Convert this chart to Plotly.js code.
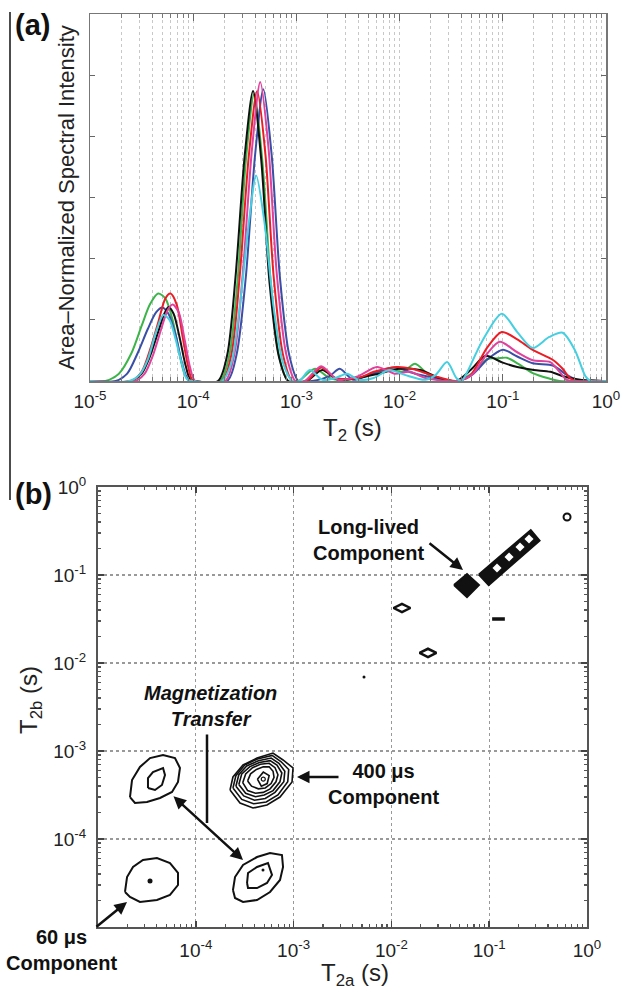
<!DOCTYPE html>
<html>
<head>
<meta charset="utf-8">
<script src="https://cdn.plot.ly/plotly-3.0.1.min.js"></script>
<style>html,body{margin:0;padding:0;background:#fff;}#chart{width:624px;height:989px;}</style>
</head>
<body>
<div id="chart"></div>
<script>
// ---------- Panel (a): T2 distributions (log10 T2 in s, area-normalized intensity) ----------
var greenLogT2 = [-5, -4.85, -4.72, -4.6, -4.5, -4.42, -4.34, -4.27, -4.2, -4.14, -4.08, -4.02, -3.74, -3.65, -3.57, -3.49, -3.41, -3.33, -3.25, -3.17, -3.08, -2.98, -2.82, -2.68, -2.55, -2.4, -2.25, -2.1, -1.97, -1.85, -1.72, -1.6, -1.45, -1.3, -1.15, -1.05, -0.96, -0.85, -0.71, -0.55, -0.45, 0];
var greenIntensity = [0, 0, 0.12, 0.45, 0.9, 1.25, 1.43, 1.35, 1.0, 0.5, 0.1, 0, 0, 0.42, 1.64, 3.6, 4.69, 3.6, 1.64, 0.42, 0, 0, 0.2, 0.05, 0.02, 0.05, 0.12, 0.2, 0.15, 0.28, 0.1, 0.02, 0, 0.12, 0.36, 0.37, 0.38, 0.28, 0.13, 0.04, 0, 0];

var blackLogT2 = [-5, -4.6, -4.5, -4.42, -4.34, -4.28, -4.24, -4.19, -4.13, -4.08, -4.03, -3.98, -3.76, -3.67, -3.59, -3.5, -3.42, -3.34, -3.26, -3.17, -3.08, -2.9, -2.75, -2.6, -2.4, -2.2, -2.0, -1.8, -1.6, -1.45, -1.3, -1.17, -1.0, -0.86, -0.7, -0.54, -0.4, -0.25, -0.1, 0];
var blackIntensity = [0, 0, 0.12, 0.4, 0.8, 1.1, 1.21, 1.1, 0.7, 0.3, 0.03, 0, 0, 0.43, 1.7, 3.7, 4.74, 3.6, 1.6, 0.4, 0, 0, 0.18, 0.02, 0.05, 0.12, 0.2, 0.18, 0.04, 0, 0.2, 0.41, 0.3, 0.23, 0.18, 0.15, 0.07, 0.02, 0.01, 0];

var blueLogT2 = [-5, -4.75, -4.64, -4.54, -4.44, -4.36, -4.3, -4.24, -4.17, -4.11, -4.05, -4.0, -3.67, -3.58, -3.49, -3.4, -3.32, -3.24, -3.16, -3.07, -2.98, -2.85, -2.68, -2.58, -2.45, -2.3, -2.05, -1.85, -1.65, -1.45, -1.3, -1.15, -1.0, -0.86, -0.71, -0.51, -0.38, -0.25, 0];
var blueIntensity = [0, 0, 0.12, 0.45, 0.85, 1.12, 1.2, 1.1, 0.75, 0.3, 0.02, 0, 0, 0.43, 1.7, 3.7, 4.77, 3.7, 1.7, 0.43, 0, 0, 0.08, 0.2, 0.02, 0.1, 0.22, 0.12, 0.05, 0, 0.1, 0.35, 0.51, 0.4, 0.29, 0.25, 0.1, 0, 0];

var redLogT2 = [-5, -4.6, -4.5, -4.42, -4.34, -4.27, -4.22, -4.16, -4.1, -4.05, -4.0, -3.72, -3.63, -3.55, -3.46, -3.38, -3.3, -3.22, -3.13, -3.04, -2.9, -2.76, -2.62, -2.4, -2.25, -2.03, -1.88, -1.7, -1.55, -1.45, -1.32, -1.15, -1.01, -0.86, -0.71, -0.51, -0.42, -0.35, -0.28, 0];
var redIntensity = [0, 0, 0.15, 0.5, 0.95, 1.35, 1.43, 1.25, 0.7, 0.25, 0, 0, 0.43, 1.7, 3.7, 4.74, 3.7, 1.7, 0.43, 0, 0, 0.22, 0.05, 0.05, 0.15, 0.23, 0.2, 0.1, 0.03, 0, 0.08, 0.55, 0.8, 0.68, 0.51, 0.34, 0.2, 0.05, 0, 0];

var magentaLogT2 = [-5, -4.56, -4.47, -4.39, -4.31, -4.25, -4.2, -4.14, -4.08, -4.03, -3.98, -3.69, -3.6, -3.52, -3.43, -3.35, -3.27, -3.19, -3.1, -3.01, -2.92, -2.76, -2.6, -2.4, -2.22, -2.05, -1.9, -1.75, -1.45, -1.3, -1.15, -1.03, -0.86, -0.71, -0.54, -0.45, -0.38, -0.3, 0];
var magentaIntensity = [0, 0, 0.12, 0.42, 0.85, 1.15, 1.25, 1.12, 0.65, 0.22, 0, 0, 0.45, 1.75, 3.8, 4.89, 3.8, 1.75, 0.45, 0, 0, 0.24, 0.02, 0.08, 0.23, 0.12, 0.15, 0.05, 0, 0.1, 0.45, 0.64, 0.47, 0.34, 0.31, 0.15, 0.02, 0, 0];

var cyanLogT2 = [-5, -4.62, -4.52, -4.44, -4.36, -4.29, -4.23, -4.17, -4.11, -4.06, -4.0, -3.72, -3.63, -3.55, -3.46, -3.39, -3.31, -3.22, -3.13, -3.04, -2.97, -2.87, -2.75, -2.62, -2.51, -2.4, -2.25, -2.1, -1.95, -1.75, -1.65, -1.54, -1.45, -1.4, -1.35, -1.2, -1.01, -0.86, -0.71, -0.55, -0.42, -0.3, -0.2, -0.15, 0];
var cyanIntensity = [0, 0, 0.1, 0.35, 0.8, 1.08, 1.0, 0.68, 0.28, 0.03, 0, 0, 0.3, 1.2, 2.6, 3.36, 2.6, 1.2, 0.3, 0, 0, 0.18, 0.02, 0.05, 0.12, 0.02, 0.05, 0.18, 0.1, 0.02, 0.1, 0.31, 0.05, 0, 0.13, 0.65, 1.1, 0.8, 0.54, 0.72, 0.79, 0.5, 0.08, 0, 0];

var decadeExponents = [-5, -4, -3, -2, -1, 0];
var tickLabelsA = ['10<sup>-5</sup>', '10<sup>-4</sup>', '10<sup>-3</sup>', '10<sup>-2</sup>', '10<sup>-1</sup>', '10<sup>0</sup>'];
var tickLabelsB_x = ['', '10<sup>-4</sup>', '10<sup>-3</sup>', '10<sup>-2</sup>', '10<sup>-1</sup>', '10<sup>0</sup>'];
var tickLabelsB_y = ['', '10<sup>-4</sup>', '10<sup>-3</sup>', '10<sup>-2</sup>', '10<sup>-1</sup>', '10<sup>0</sup>'];

// ---------- Panel (b): T2-T2 exchange map contours (log10 T2a, log10 T2b) ----------
var p60_outer_T2a = [-4.724, -4.703, -4.642, -4.540, -4.397, -4.264, -4.182, -4.182, -4.264, -4.397, -4.571, -4.673, -4.724];
var p60_outer_T2b = [-4.602, -4.432, -4.318, -4.239, -4.216, -4.273, -4.386, -4.523, -4.636, -4.693, -4.716, -4.659, -4.602];
var p60_core = [[-4.468], [-4.477]];

var xferUp_outer_T2a = [-4.673, -4.652, -4.571, -4.468, -4.335, -4.213, -4.162, -4.182, -4.243, -4.366, -4.499, -4.622, -4.673];
var xferUp_outer_T2b = [-3.523, -3.330, -3.182, -3.080, -3.045, -3.080, -3.193, -3.352, -3.466, -3.534, -3.580, -3.591, -3.523];
var xferUp_inner_T2a = [-4.489, -4.489, -4.438, -4.335, -4.315, -4.346, -4.417, -4.489];
var xferUp_inner_T2b = [-3.420, -3.307, -3.239, -3.193, -3.273, -3.386, -3.443, -3.420];

var xferLow_outer_T2a = [-3.620, -3.599, -3.517, -3.374, -3.241, -3.119, -3.108, -3.139, -3.241, -3.374, -3.517, -3.599, -3.620];
var xferLow_outer_T2b = [-4.580, -4.432, -4.295, -4.205, -4.159, -4.182, -4.318, -4.466, -4.602, -4.693, -4.716, -4.670, -4.580];
var xferLow_inner_T2a = [-3.476, -3.466, -3.374, -3.262, -3.221, -3.272, -3.374, -3.466, -3.476];
var xferLow_inner_T2b = [-4.500, -4.386, -4.318, -4.273, -4.409, -4.500, -4.557, -4.557, -4.500];
var xferLow_core = [[-3.313], [-4.352]];

var p400_rings_T2a = [
  [-3.650, -3.620, -3.517, -3.374, -3.211, -3.108, -3.006, -3.016, -3.139, -3.272, -3.415, -3.548, -3.650],
  [-3.62, -3.59, -3.50, -3.37, -3.22, -3.13, -3.05, -3.06, -3.16, -3.28, -3.41, -3.53, -3.62],
  [-3.59, -3.56, -3.48, -3.36, -3.23, -3.15, -3.09, -3.10, -3.19, -3.29, -3.40, -3.51, -3.59],
  [-3.56, -3.53, -3.45, -3.35, -3.24, -3.17, -3.12, -3.14, -3.21, -3.30, -3.39, -3.49, -3.56],
  [-3.52, -3.49, -3.42, -3.34, -3.25, -3.19, -3.16, -3.18, -3.24, -3.31, -3.39, -3.47, -3.52],
  [-3.47, -3.44, -3.38, -3.31, -3.25, -3.21, -3.20, -3.23, -3.29, -3.36, -3.43, -3.47],
  [-3.37, -3.31, -3.25, -3.27, -3.33, -3.37]
];
var p400_rings_T2b = [
  [-3.443, -3.295, -3.159, -3.080, -3.023, -3.102, -3.193, -3.352, -3.523, -3.614, -3.648, -3.591, -3.443],
  [-3.42, -3.28, -3.16, -3.09, -3.05, -3.12, -3.21, -3.35, -3.50, -3.58, -3.60, -3.55, -3.42],
  [-3.40, -3.27, -3.17, -3.11, -3.08, -3.14, -3.23, -3.35, -3.47, -3.54, -3.56, -3.51, -3.40],
  [-3.38, -3.26, -3.18, -3.13, -3.11, -3.16, -3.25, -3.35, -3.45, -3.50, -3.52, -3.48, -3.38],
  [-3.36, -3.26, -3.19, -3.15, -3.14, -3.19, -3.27, -3.35, -3.43, -3.47, -3.48, -3.45, -3.36],
  [-3.34, -3.26, -3.21, -3.18, -3.18, -3.23, -3.30, -3.37, -3.42, -3.43, -3.40, -3.34],
  [-3.32, -3.24, -3.28, -3.37, -3.40, -3.32]
];
var p400_core = [[-3.31], [-3.32]];

var longLived_T2a = [-1.360, -1.227, -1.105, -1.227, -1.360];
var longLived_T2b = [-1.114, -0.990, -1.114, -1.250, -1.114];
var diagBand_T2a = [-1.105, -1.005, -0.485, -0.575, -1.105];
var diagBand_T2b = [-0.995, -1.115, -0.610, -0.490, -0.995];
var diagHoles_T2a = [-0.920, -0.797, -0.685, -0.593];
var diagHoles_T2b = [-0.920, -0.795, -0.682, -0.591];
var openDiamonds_T2a = [-1.892, -1.626];
var openDiamonds_T2b = [-1.375, -1.886];
var smallRing = [[-0.204], [-0.341]];
var crossDash_T2a = [-0.97, -0.84];
var crossDash_T2b = [-1.50, -1.50];
var strayDot = [[-2.28], [-2.16]];

// ---------- helpers ----------
function pw(arr) { return arr.map(function (v) { return Math.pow(10, v); }); }
var W = 624, H = 989;
function px(x) { return x / W; }
function py(y) { return 1 - y / H; }

var decadeVals = pw(decadeExponents);
var minorVals = [];
for (var d = -5; d < 0; d++) { for (var m = 2; m <= 9; m++) { minorVals.push(m * Math.pow(10, d)); } }

var FONT = 'Liberation Sans, Arial, Helvetica, sans-serif';
var traces = [];

function addSeries(lx, ly, color) {
  traces.push({ x: pw(lx), y: ly, xaxis: 'x', yaxis: 'y', mode: 'lines', type: 'scatter',
    line: { color: color, width: 2, shape: 'spline', smoothing: 0.8 }, hoverinfo: 'skip', showlegend: false });
}
addSeries(greenLogT2, greenIntensity, '#3cb449');
addSeries(blueLogT2, blueIntensity, '#3a4fa6');
addSeries(blackLogT2, blackIntensity, '#111111');
addSeries(redLogT2, redIntensity, '#ec1c24');
addSeries(magentaLogT2, magentaIntensity, '#e0419c');
addSeries(cyanLogT2, cyanIntensity, '#45cfe0');

// empty traces to register overlay axes
traces.push({ x: [], y: [], xaxis: 'x3', yaxis: 'y', type: 'scatter', mode: 'lines', showlegend: false, hoverinfo: 'skip' });
traces.push({ x: [], y: [], xaxis: 'x4', yaxis: 'y2', type: 'scatter', mode: 'lines', showlegend: false, hoverinfo: 'skip' });
traces.push({ x: [], y: [], xaxis: 'x2', yaxis: 'y3', type: 'scatter', mode: 'lines', showlegend: false, hoverinfo: 'skip' });

function ring(lx, ly, w) {
  traces.push({ x: pw(lx), y: pw(ly), xaxis: 'x2', yaxis: 'y2', mode: 'lines', type: 'scatter',
    line: { color: '#111', width: w || 2 }, hoverinfo: 'skip', showlegend: false });
}
function dots(lx, ly, sym, size, lw, color) {
  traces.push({ x: pw(lx), y: pw(ly), xaxis: 'x2', yaxis: 'y2', mode: 'markers', type: 'scatter',
    marker: { symbol: sym, size: size, color: color || '#111', line: { color: color || '#111', width: lw || 0 } },
    hoverinfo: 'skip', showlegend: false });
}
function filled(lx, ly) {
  traces.push({ x: pw(lx), y: pw(ly), xaxis: 'x2', yaxis: 'y2', mode: 'lines', type: 'scatter', fill: 'toself',
    fillcolor: '#111', line: { color: '#111', width: 2 }, hoverinfo: 'skip', showlegend: false });
}

ring(p60_outer_T2a, p60_outer_T2b);
dots(p60_core[0], p60_core[1], 'circle', 5, 0);
ring(xferUp_outer_T2a, xferUp_outer_T2b);
ring(xferUp_inner_T2a, xferUp_inner_T2b);
ring(xferLow_outer_T2a, xferLow_outer_T2b);
ring(xferLow_inner_T2a, xferLow_inner_T2b);
dots(xferLow_core[0], xferLow_core[1], 'circle', 3, 0);
for (var i = 0; i < p400_rings_T2a.length; i++) { ring(p400_rings_T2a[i], p400_rings_T2b[i], 1.6); }
dots(p400_core[0], p400_core[1], 'circle-open', 4, 1.2);
filled(longLived_T2a, longLived_T2b);
filled(diagBand_T2a, diagBand_T2b);
dots(diagHoles_T2a, diagHoles_T2b, 'diamond', 7, 0, '#ffffff');
dots(openDiamonds_T2a, openDiamonds_T2b, 'diamond-wide-open', 12, 2.5);
dots(smallRing[0], smallRing[1], 'circle-open', 7, 2);
traces.push({ x: pw(crossDash_T2a), y: pw(crossDash_T2b), xaxis: 'x2', yaxis: 'y2', mode: 'lines', type: 'scatter',
  line: { color: '#111', width: 3.5 }, hoverinfo: 'skip', showlegend: false });
dots(strayDot[0], strayDot[1], 'circle', 3, 0);

// ---------- layout ----------
var tickFont = { family: FONT, size: 19, color: '#222' };
var domAx = [px(90), px(606)], domAy = [py(381), py(14)];
var domBx = [px(98), px(587)], domBy = [py(927), py(487)];

var layout = {
  width: W, height: H, margin: { l: 0, r: 0, t: 0, b: 0 },
  paper_bgcolor: '#fff', plot_bgcolor: '#fff', showlegend: false,
  font: { family: FONT },
  xaxis: { domain: domAx, anchor: 'y', type: 'log', range: [-5, 0], tickmode: 'array', tickvals: decadeVals, ticktext: tickLabelsA,
    ticks: 'inside', ticklen: 7, tickcolor: '#666', tickwidth: 1.2, mirror: 'ticks', showline: true, linecolor: '#777', linewidth: 1.5,
    showgrid: true, gridcolor: '#c8c8c8', griddash: 'dot', gridwidth: 1, zeroline: false, tickfont: tickFont, ticklabelstandoff: 3 },
  xaxis3: { overlaying: 'x', anchor: 'y', type: 'log', range: [-5, 0], tickmode: 'array', tickvals: minorVals, showticklabels: false,
    ticks: 'inside', ticklen: 4, tickcolor: '#777', mirror: 'ticks', showline: false,
    showgrid: true, gridcolor: '#c8c8c8', griddash: 'dot', gridwidth: 1, zeroline: false },
  yaxis: { domain: domAy, anchor: 'x', range: [0, 6], tickmode: 'array', tickvals: [1, 2, 3, 4, 5], showticklabels: false,
    ticks: 'inside', ticklen: 5, tickcolor: '#666', mirror: 'ticks', showline: true, linecolor: '#777', linewidth: 1.5,
    showgrid: false, zeroline: false },
  xaxis2: { domain: domBx, anchor: 'y2', type: 'log', range: [-5, 0], tickmode: 'array', tickvals: decadeVals, ticktext: tickLabelsB_x,
    ticks: 'inside', ticklen: 6, tickcolor: '#444', tickwidth: 1.5, mirror: 'ticks', showline: true, linecolor: '#555', linewidth: 2,
    showgrid: true, gridcolor: '#999', griddash: 'dot', gridwidth: 1.2, zeroline: false, tickfont: tickFont, ticklabelstandoff: 5 },
  xaxis4: { overlaying: 'x2', anchor: 'y2', type: 'log', range: [-5, 0], tickmode: 'array', tickvals: minorVals, showticklabels: false,
    ticks: 'inside', ticklen: 3, tickcolor: '#555', tickwidth: 1.2, mirror: 'ticks', showline: false, showgrid: false, zeroline: false },
  yaxis2: { domain: domBy, anchor: 'x2', type: 'log', range: [-5, 0], tickmode: 'array', tickvals: decadeVals, ticktext: tickLabelsB_y,
    ticks: 'inside', ticklen: 6, tickcolor: '#444', tickwidth: 1.5, mirror: 'ticks', showline: true, linecolor: '#555', linewidth: 2,
    showgrid: true, gridcolor: '#999', griddash: 'dot', gridwidth: 1.2, zeroline: false, tickfont: tickFont, ticklabelstandoff: 6 },
  yaxis3: { overlaying: 'y2', anchor: 'x2', type: 'log', range: [-5, 0], tickmode: 'array', tickvals: minorVals, showticklabels: false,
    ticks: 'inside', ticklen: 3, tickcolor: '#555', tickwidth: 1.2, mirror: 'ticks', showline: false, showgrid: false, zeroline: false },
  shapes: [
    { type: 'line', xref: 'paper', yref: 'paper', x0: px(10), x1: px(10), y0: py(12), y1: py(500), line: { color: '#111', width: 1.5 } }
  ],
  annotations: []
};

function txt(t, x, y, opts) {
  var a = { text: t, xref: 'paper', yref: 'paper', x: px(x), y: py(y), xanchor: 'center', yanchor: 'middle', showarrow: false,
    font: { family: FONT, size: 20, color: '#111' } };
  for (var k in (opts || {})) { a[k] = opts[k]; }
  layout.annotations.push(a);
}
function arrow(hx, hy, tx, ty, opts) {
  var a = { text: '', xref: 'paper', yref: 'paper', x: px(hx), y: py(hy), ax: tx - hx, ay: ty - hy, axref: 'pixel', ayref: 'pixel',
    showarrow: true, arrowhead: 2, arrowsize: 1, arrowwidth: 2.5, arrowcolor: '#111', standoff: 0, startstandoff: 0 };
  for (var k in (opts || {})) { a[k] = opts[k]; }
  layout.annotations.push(a);
}

txt('<b>(a)</b>', 32, 25, { font: { family: FONT, size: 29, color: '#111' } });
txt('<b>(b)</b>', 33, 494, { font: { family: FONT, size: 29, color: '#111' } });
txt('Area\u2013Normalized Spectral Intensity', 66, 198, { textangle: -90, font: { family: FONT, size: 22, color: '#222' } });
txt('T<sub>2</sub> (s)', 352, 430, { font: { family: FONT, size: 24, color: '#222' } });
txt('T<sub>2b</sub> (s)', 30, 700, { textangle: -90, font: { family: FONT, size: 24, color: '#222' } });
txt('T<sub>2a</sub> (s)', 355, 974, { font: { family: FONT, size: 24, color: '#222' } });
txt('<b>Long-lived</b><br><b>Component</b>', 368, 540);
txt('<b><i>Magnetization</i></b><br><b><i>Transfer</i></b>', 210, 706);
txt('<b>400 \u03bcs</b><br><b>Component</b>', 383, 784);
txt('<b>60 \u03bcs</b><br><b>Component</b>', 62, 950);

arrow(463, 570, 428, 542);
arrow(207, 823, 207, 733, { arrowhead: 0 });
arrow(243, 860, 172, 795, { arrowside: 'end+start' });
arrow(297, 777, 340, 777);
arrow(127, 902, 95, 928);

Plotly.newPlot('chart', traces, layout, { staticPlot: true, displayModeBar: false });
</script>
</body>
</html>
